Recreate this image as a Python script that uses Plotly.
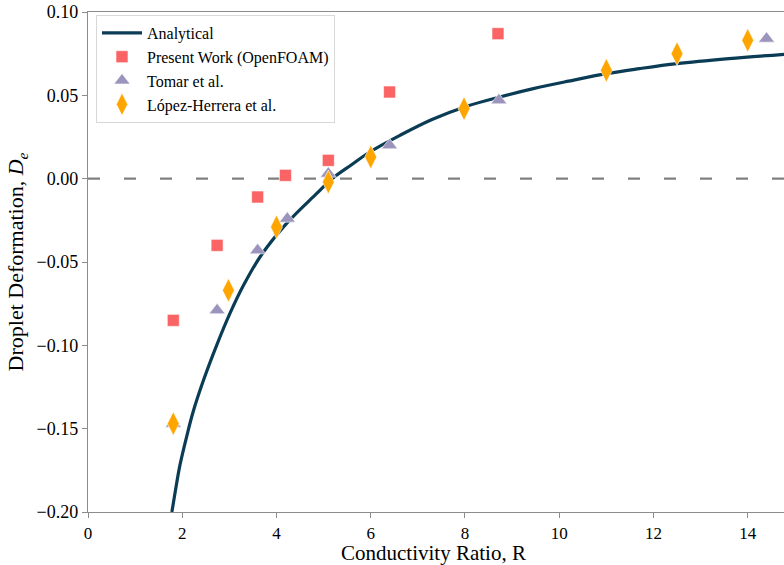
import plotly.graph_objects as go

# Analytical deformation curve vs conductivity ratio
r_analytical = [1.78, 1.85, 1.95, 2.10, 2.23, 2.45, 2.73, 3.01, 3.30, 3.65, 4.21,
                4.85, 5.18, 5.60, 5.98, 6.62, 7.30, 8.04, 8.74, 9.45, 10.2, 11.0,
                11.7, 12.5, 13.6, 14.8]
d_analytical = [-0.200, -0.188, -0.172, -0.154, -0.140, -0.121, -0.100, -0.081,
                -0.064, -0.047, -0.027, -0.009, 0.000, 0.0085, 0.016, 0.026,
                0.0355, 0.0435, 0.049, 0.054, 0.0585, 0.063, 0.066, 0.069,
                0.072, 0.0747]

# Present work (OpenFOAM)
r_present = [1.81, 2.74, 3.60, 4.19, 5.10, 6.40, 8.70]
d_present = [-0.085, -0.040, -0.011, 0.002, 0.011, 0.052, 0.087]

# Tomar et al.
r_tomar = [1.81, 2.74, 3.60, 4.23, 5.10, 6.40, 8.72, 14.40]
d_tomar = [-0.147, -0.079, -0.043, -0.024, 0.003, 0.020, 0.047, 0.084]

# López-Herrera et al.
r_lopez = [1.81, 2.98, 4.00, 5.10, 6.00, 7.98, 11.00, 12.50, 14.00]
d_lopez = [-0.147, -0.067, -0.029, -0.002, 0.013, 0.042, 0.065, 0.075, 0.083]

x_ticks = [0, 2, 4, 6, 8, 10, 12, 14]
y_ticks = [-0.20, -0.15, -0.10, -0.05, 0.00, 0.05, 0.10]

SERIF = "Liberation Serif"

fig = go.Figure()

fig.add_trace(go.Scatter(
    x=r_analytical, y=d_analytical, mode="lines", name="Analytical",
    line=dict(color="#0b3c55", width=3.2, shape="spline", smoothing=1.0),
))
fig.add_trace(go.Scatter(
    x=r_present, y=d_present, mode="markers", name="Present Work (OpenFOAM)",
    marker=dict(symbol="square", size=12, color="#fa6464",
                line=dict(color="white", width=0.6)),
))
fig.add_trace(go.Scatter(
    x=r_tomar, y=d_tomar, mode="markers", name="Tomar et al.",
    marker=dict(symbol="triangle-up", size=14, color="#9b95bd",
                line=dict(color="white", width=0.6)),
))
fig.add_trace(go.Scatter(
    x=r_lopez, y=d_lopez, mode="markers", name="López-Herrera et al.",
    marker=dict(symbol="diamond-tall", size=17, color="#ffa500",
                line=dict(color="white", width=0.6)),
))

# reference line at zero deformation
fig.add_shape(type="line", xref="paper", x0=0, x1=1, yref="y", y0=0, y1=0,
              line=dict(color="#808080", width=2.2, dash="12px,24px"), layer="below")

# x-axis title, placed just under the tick labels
fig.add_annotation(text="Conductivity Ratio, R", xref="paper", yref="paper",
                   x=0.497, y=0, yshift=-27, xanchor="center", yanchor="top",
                   showarrow=False, font=dict(family=SERIF, size=21, color="black"))

fig.update_layout(
    width=784, height=565,
    margin=dict(l=88, r=0, t=12, b=53),
    paper_bgcolor="white", plot_bgcolor="white",
    font=dict(family=SERIF, color="black", size=16),
    showlegend=True,
    legend=dict(
        x=0.0115, y=0.994, xanchor="left", yanchor="top",
        bgcolor="rgba(255,255,255,0.9)", bordercolor="#d8d8d8", borderwidth=1,
        font=dict(family=SERIF, size=16, color="black"),
        tracegroupgap=0, itemwidth=40,
    ),
    xaxis=dict(
        range=[0, 14.77], tickvals=x_ticks, ticktext=[str(v) for v in x_ticks],
        showgrid=False, zeroline=False,
        showline=True, linecolor="#8c8c8c", linewidth=1.3, mirror=True,
        ticks="outside", ticklen=5, tickcolor="#8c8c8c", tickwidth=1,
        tickfont=dict(family=SERIF, size=17),
    ),
    yaxis=dict(
        range=[-0.20, 0.10], tickvals=y_ticks, tickformat=".2f",
        showgrid=False, zeroline=False,
        showline=True, linecolor="#8c8c8c", linewidth=1.3,
        ticks="outside", ticklen=5, tickcolor="#8c8c8c", tickwidth=1,
        tickfont=dict(family=SERIF, size=18),
        title=dict(text="Droplet Deformation, <i>D<sub>e</sub></i>",
                   font=dict(family=SERIF, size=22), standoff=6),
    ),
)

fig.write_html("out.html")
